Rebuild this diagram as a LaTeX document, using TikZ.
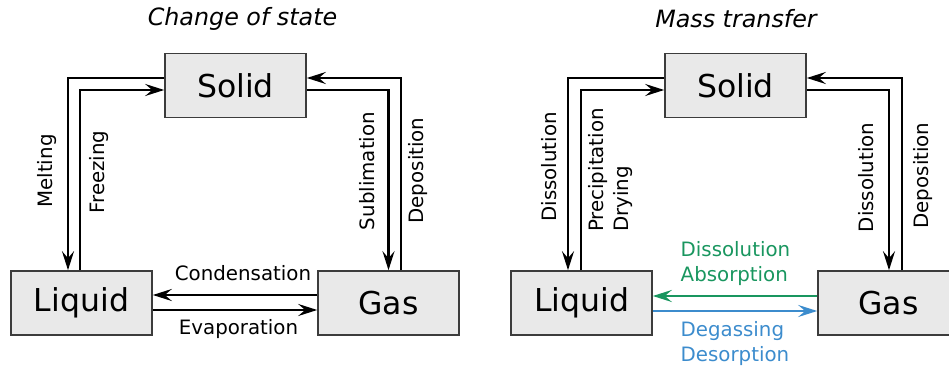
\documentclass[tikz,border=0pt]{standalone}
\usepackage{fontspec}
\setmainfont{DejaVu Sans}
\usetikzlibrary{arrows.meta}
\definecolor{absorbgreen}{RGB}{25,150,95}
\definecolor{desorbblue}{RGB}{60,140,205}
\definecolor{boxfill}{RGB}{233,233,233}
\definecolor{boxline}{RGB}{60,60,60}
\begin{document}
\begin{tikzpicture}[x=1pt,y=1pt,
    state/.style={draw=boxline,fill=boxfill,line width=1.6pt,minimum width=141pt,
      minimum height=64pt,inner sep=0pt,font=\fontsize{31.5}{38}\selectfont},
    flow/.style={line width=2.5pt,-{Stealth[length=19pt,width=12pt,inset=7pt]}},
    lbl/.style={inner sep=0pt,font=\fontsize{19.8}{25}\selectfont},
    heading/.style={font=\fontsize{23.8}{28}\selectfont\itshape}]
  \useasboundingbox (0,0) rectangle (949,369);
  % change of state
  \node [heading] (title1) at (242.5,350) {Change of state};
  \node [state] (solid1) at (235.5,283.5) {Solid};
  \node [state] (liquid1) at (81.5,66) {Liquid};
  \node [state] (gas1) at (388.5,66) {Gas};
  \draw [flow] ([yshift=7.5pt]solid1.west) -| ([xshift=-13.5pt]liquid1.north);
  \draw [flow] ([xshift=-1.5pt]liquid1.north) |- ([yshift=-4.5pt]solid1.west);
  \draw [flow] ([yshift=-4.5pt]solid1.east) -| (gas1.north);
  \draw [flow] ([xshift=12.5pt]gas1.north) |- ([yshift=7.5pt]solid1.east);
  \draw [flow] ([yshift=8pt]gas1.west) -- ([yshift=8pt]liquid1.east);
  \draw [flow] ([yshift=-7pt]liquid1.east) -- ([yshift=-7pt]gas1.west);
  \node [lbl,rotate=90] (melt) at (47.5,198) {Melting};
  \node [lbl,rotate=90] (freeze) at (99,197) {Freezing};
  \node [lbl,rotate=90] (subl) at (367.5,198) {Sublimation};
  \node [lbl,rotate=90] (depo1) at (418.5,198.5) {Deposition};
  \node [lbl] (cond) at (243,96) {Condensation};
  \node [lbl] (evap) at (238.5,40) {Evaporation};
  % mass transfer
  \node [heading] (title2) at (736,350) {Mass transfer};
  \node [state] (solid2) at (735.5,283.5) {Solid};
  \node [state] (liquid2) at (581.5,66) {Liquid};
  \node [state] (gas2) at (888.5,66) {Gas};
  \draw [flow] ([yshift=7.5pt]solid2.west) -| ([xshift=-13.5pt]liquid2.north);
  \draw [flow] ([xshift=-0.5pt]liquid2.north) |- ([yshift=-4.5pt]solid2.west);
  \draw [flow] ([yshift=-4.5pt]solid2.east) -| ([xshift=0.5pt]gas2.north);
  \draw [flow] ([xshift=13.5pt]gas2.north) |- ([yshift=7.5pt]solid2.east);
  \draw [flow,absorbgreen] ([yshift=7pt]gas2.west) -- ([yshift=7pt]liquid2.east);
  \draw [flow,desorbblue] ([yshift=-8pt]liquid2.east) -- ([yshift=-8pt]gas2.west);
  \node [lbl,rotate=90] (diss1) at (549,202) {Dissolution};
  \node [lbl,rotate=90,align=left] (precip) at (611,199) {Precipitation\\Drying};
  \node [lbl,rotate=90] (diss2) at (866.5,191.5) {Dissolution};
  \node [lbl,rotate=90] (depo2) at (923,193.5) {Deposition};
  \node [lbl,absorbgreen,align=left,anchor=north west] (absorb) at (680.5,127.5) {Dissolution\\Absorption};
  \node [lbl,desorbblue,align=left,anchor=north west] (desorb) at (680.5,48) {Degassing\\Desorption};
\end{tikzpicture}
\end{document}
